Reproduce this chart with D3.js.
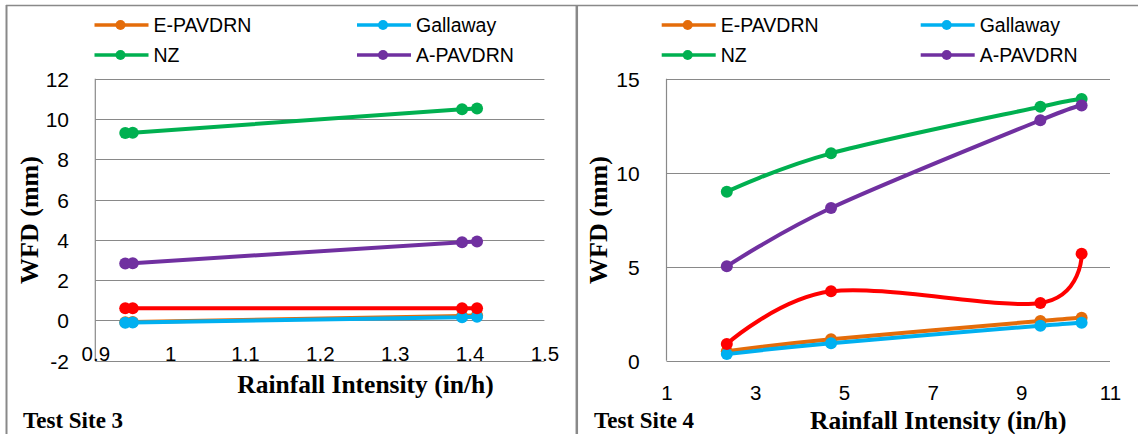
<!DOCTYPE html>
<html><head><meta charset="utf-8">
<script src="https://cdn.jsdelivr.net/npm/d3@7"></script>
<style>html,body{margin:0;padding:0;background:#fff;}svg{display:block;}</style>
</head><body>
<svg id="c" width="1138" height="434"></svg>
<script>
// ---- data ----
const seriesNames = ["E-PAVDRN", "Gallaway", "NZ", "A-PAVDRN", ""];
const seriesColors = ["#E46C0A", "#00B0F0", "#00B050", "#7030A0", "#FF0000"];

// Test Site 3
const site3X = [0.94, 0.95, 1.39, 1.41];
const site3E = [-0.10, -0.08, 0.22, 0.25];
const site3Gallaway = [-0.12, -0.11, 0.15, 0.18];
const site3NZ = [9.30, 9.32, 10.48, 10.52];
const site3A = [2.82, 2.84, 3.88, 3.92];
const site3Red = [0.60, 0.60, 0.60, 0.60];
const site3XTicks = [0.9, 1.0, 1.1, 1.2, 1.3, 1.4, 1.5];
const site3XTickLabels = ["0.9", "1", "1.1", "1.2", "1.3", "1.4", "1.5"];
const site3YTicks = [-2, 0, 2, 4, 6, 8, 10, 12];

// Test Site 4
const site4X = [2.36, 4.71, 9.43, 10.36];
const site4E = [0.50, 1.14, 2.11, 2.29];
const site4Gallaway = [0.35, 0.93, 1.86, 2.02];
const site4NZ = [8.99, 11.03, 13.51, 13.92];
const site4A = [5.02, 8.12, 12.79, 13.57];
const site4Red = [0.89, 3.69, 3.07, 5.69];
const site4XTicks = [1, 3, 5, 7, 9, 11];
const site4YTicks = [0, 5, 10, 15];

const svg = d3.select("#c");
const gridColor = "#898989";

// panel frames
svg.append("line").attr("x1", 6).attr("x2", 1138).attr("y1", 5.5).attr("y2", 5.5)
  .attr("stroke", gridColor).attr("stroke-width", 1.5);
svg.append("line").attr("x1", 6.5).attr("x2", 6.5).attr("y1", 5).attr("y2", 434)
  .attr("stroke", gridColor).attr("stroke-width", 2);
svg.append("line").attr("x1", 576.8).attr("x2", 576.8).attr("y1", 5).attr("y2", 434)
  .attr("stroke", gridColor).attr("stroke-width", 2.5);

function panel(cfg) {
  const g = svg.append("g");
  const x = d3.scaleLinear().domain(cfg.xDomain).range(cfg.xRange);
  const y = d3.scaleLinear().domain(cfg.yDomain).range(cfg.yRange);

  // gridlines
  g.selectAll(".grid").data(cfg.yTicks).enter().append("line")
    .attr("x1", cfg.xRange[0]).attr("x2", cfg.xRange[1])
    .attr("y1", d => Math.round(y(d)) + 0.5).attr("y2", d => Math.round(y(d)) + 0.5)
    .attr("stroke", gridColor).attr("stroke-width", 1.2);
  // y axis line
  g.append("line").attr("x1", cfg.xRange[0]).attr("x2", cfg.xRange[0])
    .attr("y1", cfg.yRange[0]).attr("y2", cfg.yRange[1])
    .attr("stroke", gridColor).attr("stroke-width", 1.2);

  // y tick labels via axis generator (lines hidden)
  const yAxis = d3.axisLeft(y).tickValues(cfg.yTicks).tickSize(0).tickPadding(0).tickFormat(d => String(d));
  const ya = g.append("g").attr("transform", `translate(${cfg.yLabelX},0)`).call(yAxis);
  ya.select(".domain").remove();
  ya.selectAll("text").attr("font-family", "Liberation Sans, Arial, sans-serif")
    .attr("font-size", 21).attr("fill", "#000").attr("dy", "0.36em");

  // x tick labels
  const xAxis = d3.axisBottom(x).tickValues(cfg.xTicks).tickSize(0).tickPadding(0)
    .tickFormat((d, i) => cfg.xTickLabels ? cfg.xTickLabels[i] : String(d));
  const xa = g.append("g").attr("transform", `translate(0,${cfg.xLabelY})`).call(xAxis);
  xa.select(".domain").remove();
  xa.selectAll("text").attr("font-family", "Liberation Sans, Arial, sans-serif")
    .attr("font-size", 20.5).attr("fill", "#000").attr("dy", "0.36em").attr("y", 0);

  // series
  const curve = cfg.smooth ? d3.curveCardinal.tension(0) : d3.curveLinear;
  cfg.series.forEach((vals, si) => {
    const pts = vals.map((v, i) => [cfg.xs[i], v]);
    const line = d3.line().x(d => x(d[0])).y(d => y(d[1])).curve(curve);
    g.append("path").attr("d", line(pts)).attr("fill", "none")
      .attr("stroke", seriesColors[si]).attr("stroke-width", 4)
      .attr("stroke-linejoin", "round").attr("stroke-linecap", "round");
    g.selectAll(null).data(pts).enter().append("circle")
      .attr("cx", d => x(d[0])).attr("cy", d => y(d[1])).attr("r", 6)
      .attr("fill", seriesColors[si]);
  });

  // legend
  const legendPos = [[0, 0], [1, 0], [0, 1], [1, 1]];
  for (let i = 0; i < 4; i++) {
    const lx = cfg.legendX[legendPos[i][0]];
    const ly = 25 + legendPos[i][1] * 30;
    g.append("line").attr("x1", lx).attr("x2", lx + 54).attr("y1", ly).attr("y2", ly)
      .attr("stroke", seriesColors[i]).attr("stroke-width", 3.5);
    g.append("circle").attr("cx", lx + 26).attr("cy", ly).attr("r", 5).attr("fill", seriesColors[i]);
    g.append("text").attr("x", lx + 59).attr("y", ly).attr("dy", "0.36em")
      .attr("font-family", "Liberation Sans, Arial, sans-serif").attr("font-size", 19.5)
      .attr("fill", "#000").text(seriesNames[i]);
  }

  // axis titles
  g.append("text").attr("transform", `translate(${cfg.yTitleX},220) rotate(-90)`)
    .attr("text-anchor", "middle").attr("dy", "0.35em")
    .attr("font-family", "Liberation Serif, Times New Roman, serif").attr("font-weight", "bold")
    .attr("font-size", 26).text("WFD (mm)");
  g.append("text").attr("x", cfg.xTitleX).attr("y", cfg.xTitleY).attr("text-anchor", "middle")
    .attr("font-family", "Liberation Serif, Times New Roman, serif").attr("font-weight", "bold")
    .attr("font-size", 25.5).text("Rainfall Intensity (in/h)");
  g.append("text").attr("x", cfg.siteX).attr("y", 428)
    .attr("font-family", "Liberation Serif, Times New Roman, serif").attr("font-weight", "bold")
    .attr("font-size", 23).text(cfg.site);
}

panel({
  xDomain: [0.9, 1.5], xRange: [95.3, 544.4],
  yDomain: [-2, 12], yRange: [360.6, 78.7],
  xTicks: site3XTicks, xTickLabels: site3XTickLabels, yTicks: site3YTicks,
  yLabelX: 69, xLabelY: 354,
  xs: site3X, series: [site3E, site3Gallaway, site3NZ, site3A, site3Red], smooth: false,
  legendX: [94.5, 357],
  yTitleX: 28.4, xTitleX: 365.5, xTitleY: 393, siteX: 23, site: "Test Site 3"
});

panel({
  xDomain: [1, 11], xRange: [666.5, 1110],
  yDomain: [0, 15], yRange: [360.7, 78.7],
  xTicks: site4XTicks, yTicks: site4YTicks,
  yLabelX: 639.6, xLabelY: 393,
  xs: site4X, series: [site4E, site4Gallaway, site4NZ, site4A, site4Red], smooth: true,
  legendX: [661.7, 920.7],
  yTitleX: 598.3, xTitleX: 938.3, xTitleY: 429, siteX: 594, site: "Test Site 4"
});
</script>
</body></html>
